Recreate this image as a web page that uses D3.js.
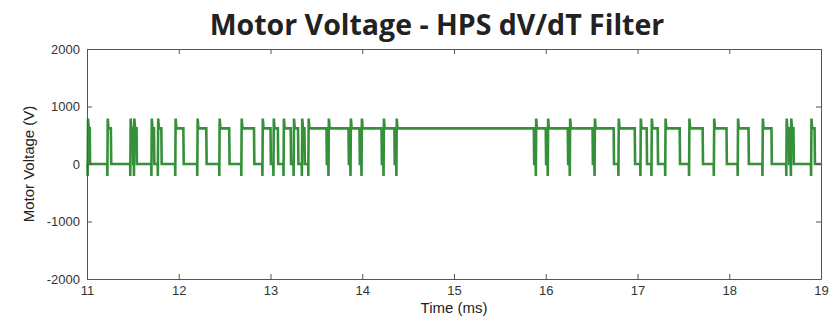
<!DOCTYPE html>
<html>
<head>
<meta charset="utf-8">
<script src="https://cdn.jsdelivr.net/npm/d3@7"></script>
<style>
  body { margin: 0; background: #fff; }
  svg { display: block; }
</style>
</head>
<body>
<div id="chart"></div>
<script>
// chart data
const xTicks = [11, 12, 13, 14, 15, 16, 17, 18, 19];
const yTicks = [-2000, -1000, 0, 1000, 2000];

// switching instants (ms)
const riseTimes = [11.005, 11.22, 11.47, 11.51, 11.70, 11.77, 11.96, 12.20, 12.44, 12.68,
  12.91, 13.03, 13.14, 13.25, 13.34, 13.41, 13.63, 13.87, 13.99, 14.23, 14.37,
  15.89, 16.02, 16.26, 16.53, 16.79, 17.03, 17.15, 17.30, 17.56, 17.83, 18.09, 18.36,
  18.62, 18.67, 18.89];
const fallTimes = [11.03, 11.26, 11.50, 11.54, 11.73, 11.81, 12.05, 12.30, 12.55, 12.82,
  13.00, 13.08, 13.22, 13.30, 13.37, 13.61, 13.85, 13.97, 14.21, 14.35,
  15.87, 16.00, 16.24, 16.51, 16.74, 16.97, 17.10, 17.22, 17.46, 17.71, 17.97, 18.21, 18.46,
  18.65, 18.70, 18.93];

// voltage levels (V)
const lowLevel = 0;
const highLevel = 620;
const overshoot = 790;
const undershoot = -210;

const width = 830, height = 325;
const margin = { top: 49, right: 9, bottom: 46, left: 87 };

const svg = d3.select('#chart').append('svg')
  .attr('width', width)
  .attr('height', height);

const x = d3.scaleLinear().domain([11, 19]).range([margin.left, width - margin.right]);
const y = d3.scaleLinear().domain([-2000, 2000]).range([height - margin.bottom, margin.top]);

// build the waveform from the edges
const edges = riseTimes.map(t => ({ t, rise: true }))
  .concat(fallTimes.map(t => ({ t, rise: false })))
  .sort((a, b) => a.t - b.t);

const wave = [[11, lowLevel]];
edges.forEach(e => {
  if (e.rise) {
    wave.push([e.t, lowLevel], [e.t + 0.002, undershoot], [e.t + 0.006, overshoot], [e.t + 0.014, highLevel]);
  } else {
    wave.push([e.t, highLevel], [e.t + 0.004, lowLevel]);
  }
});
wave.push([19, lowLevel]);

const font = '"Liberation Sans", Arial, sans-serif';

// title
svg.append('text')
  .attr('x', 437)
  .attr('y', 35)
  .attr('text-anchor', 'middle')
  .style('font-family', '"Open Sans", "Noto Sans", sans-serif')
  .style('font-weight', 700)
  .style('font-size', '28.5px')
  .style('fill', '#222')
  .text('Motor Voltage - HPS dV/dT Filter');

const plot = svg.append('g');

// trace
plot.append('path')
  .datum(wave)
  .attr('fill', 'none')
  .attr('stroke', '#36903a')
  .attr('stroke-width', 2.6)
  .attr('stroke-linejoin', 'miter')
  .attr('d', d3.line().x(d => x(d[0])).y(d => y(d[1])));

// axes (ticks pointing inward, box round the plot)
const fmt = d => String(d);

svg.append('g')
  .attr('transform', `translate(0,${height - margin.bottom})`)
  .call(d3.axisBottom(x).tickValues(xTicks).tickFormat(fmt).tickSizeInner(-5).tickSizeOuter(0).tickPadding(7));

svg.append('g')
  .attr('transform', `translate(${margin.left},0)`)
  .call(d3.axisLeft(y).tickValues(yTicks).tickFormat(fmt).tickSizeInner(-5).tickSizeOuter(0).tickPadding(7));

svg.append('g')
  .attr('transform', `translate(0,${margin.top})`)
  .call(d3.axisTop(x).tickValues(xTicks).tickSizeInner(-5).tickSizeOuter(0).tickFormat(''));

svg.append('g')
  .attr('transform', `translate(${width - margin.right},0)`)
  .call(d3.axisRight(y).tickValues(yTicks).tickSizeInner(-5).tickSizeOuter(0).tickFormat(''));

svg.selectAll('.domain, .tick line')
  .attr('stroke', '#555')
  .attr('stroke-width', 1);

svg.selectAll('.tick text')
  .style('font-family', font)
  .style('font-size', '13px')
  .style('fill', '#333');

// axis titles
svg.append('text')
  .attr('x', (margin.left + width - margin.right) / 2)
  .attr('y', 313)
  .attr('text-anchor', 'middle')
  .style('font-family', font)
  .style('font-size', '15px')
  .style('fill', '#222')
  .text('Time (ms)');

svg.append('text')
  .attr('transform', `translate(34,${(margin.top + height - margin.bottom) / 2}) rotate(-90)`)
  .attr('text-anchor', 'middle')
  .style('font-family', font)
  .style('font-size', '15px')
  .style('fill', '#222')
  .text('Motor Voltage (V)');
</script>
</body>
</html>
